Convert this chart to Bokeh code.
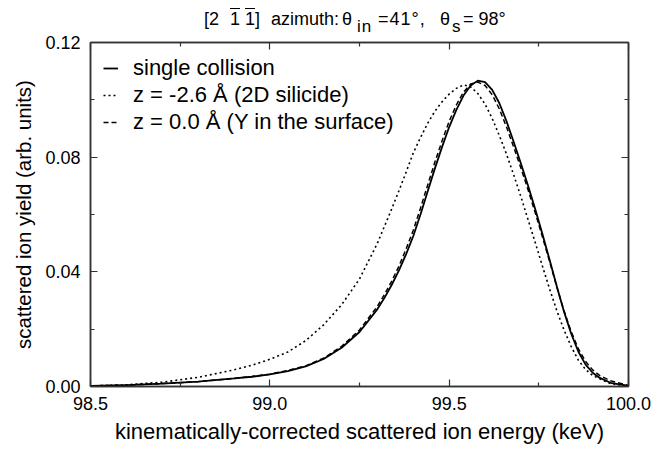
from bokeh.plotting import figure
from bokeh.models import LinearAxis, FixedTicker, Legend, LegendItem, Range1d, Div
from bokeh.layouts import column
from bokeh.embed import file_html
from bokeh.resources import INLINE

# ---------------- data ----------------
energy_single = [98.50, 98.60, 98.70, 98.80, 98.90, 98.95, 99.00, 99.05, 99.10, 99.15,
                 99.20, 99.25, 99.30, 99.32, 99.34, 99.36, 99.38, 99.40, 99.42, 99.44,
                 99.46, 99.48, 99.50, 99.52, 99.54, 99.56, 99.58, 99.60, 99.62, 99.64,
                 99.66, 99.68, 99.70, 99.72, 99.74, 99.76, 99.78, 99.80, 99.82, 99.84,
                 99.86, 99.88, 99.90, 99.92, 99.95, 100.00]
yield_single = [0.0002, 0.0005, 0.0010, 0.0017, 0.0028, 0.0034, 0.0042, 0.0054, 0.0070, 0.0096,
                0.0135, 0.0190, 0.0270, 0.0310, 0.0355, 0.0405, 0.0462, 0.0525, 0.0600, 0.0680,
                0.0760, 0.0835, 0.0905, 0.0965, 0.1015, 0.1050, 0.1067, 0.1062, 0.1035, 0.0988,
                0.0925, 0.0853, 0.0778, 0.0700, 0.0618, 0.0532, 0.0442, 0.0350, 0.0262, 0.0185,
                0.0122, 0.0077, 0.0048, 0.0030, 0.0013, 0.0002]

energy_silicide = [98.50, 98.60, 98.70, 98.80, 98.90, 98.95, 99.00, 99.05, 99.10, 99.15,
                   99.20, 99.25, 99.30, 99.32, 99.34, 99.36, 99.38, 99.40, 99.42, 99.44,
                   99.46, 99.48, 99.50, 99.52, 99.54, 99.56, 99.58, 99.60, 99.62, 99.64,
                   99.66, 99.68, 99.70, 99.72, 99.74, 99.76, 99.78, 99.80, 99.82, 99.84,
                   99.86, 99.88, 99.90, 99.95, 100.00]
yield_silicide = [0.0002, 0.0006, 0.0015, 0.0032, 0.0058, 0.0074, 0.0095, 0.0120, 0.0160, 0.0215,
                  0.0285, 0.0375, 0.0500, 0.0560, 0.0620, 0.0683, 0.0748, 0.0815, 0.0868, 0.0918,
                  0.0960, 0.0993, 0.1020, 0.1040, 0.1052, 0.1045, 0.1022, 0.0985, 0.0935, 0.0875,
                  0.0810, 0.0738, 0.0662, 0.0582, 0.0502, 0.0420, 0.0340, 0.0265, 0.0198, 0.0140,
                  0.0092, 0.0060, 0.0038, 0.0010, 0.0002]

energy_surface = [98.50, 98.60, 98.70, 98.80, 98.90, 98.95, 99.00, 99.05, 99.10, 99.15,
                  99.20, 99.25, 99.30, 99.32, 99.34, 99.36, 99.38, 99.40, 99.42, 99.44,
                  99.46, 99.48, 99.50, 99.52, 99.54, 99.56, 99.58, 99.60, 99.62, 99.64,
                  99.66, 99.68, 99.70, 99.72, 99.74, 99.76, 99.78, 99.80, 99.82, 99.84,
                  99.86, 99.88, 99.90, 99.92, 99.95, 100.00]
yield_surface = [0.0002, 0.0005, 0.0010, 0.0017, 0.0028, 0.0035, 0.0043, 0.0056, 0.0072, 0.0099,
                 0.0140, 0.0197, 0.0280, 0.0322, 0.0368, 0.0420, 0.0480, 0.0545, 0.0622, 0.0702,
                 0.0782, 0.0856, 0.0925, 0.0982, 0.1027, 0.1055, 0.1062, 0.1050, 0.1018, 0.0968,
                 0.0905, 0.0835, 0.0762, 0.0686, 0.0606, 0.0522, 0.0436, 0.0348, 0.0265, 0.0192,
                 0.0132, 0.0088, 0.0058, 0.0038, 0.0020, 0.0004]

series_labels = ["single collision", "z = -2.6 Å (2D silicide)", "z = 0.0 Å (Y in the surface)"]

x_ticks = [98.5, 99.0, 99.5, 100.0]
x_tick_labels = ["98.5", "99.0", "99.5", "100.0"]
x_minor_ticks = [98.75, 99.25, 99.75]
y_ticks = [0.0, 0.04, 0.08, 0.12]
y_tick_labels = ["0.00", "0.04", "0.08", "0.12"]
y_minor_ticks = [0.02, 0.06, 0.10]

x_title = "kinematically-corrected scattered ion energy (keV)"
y_title = "scattered ion yield (arb. units)"

FONT = "Liberation Sans"
AXC = "#333333"

# title pieces: (html, left px, top px, font px, letter spacing px)
title_pieces = [
    ("[2", 204, 10, 18, 0),
    ('<span style="text-decoration:overline">1</span>', 230, 10, 18, 0),
    ('<span style="text-decoration:overline">1</span>]', 245, 10, 18, 0),
    ("azimuth:", 271, 10, 18, 0),
    ("θ", 342, 10, 18, 0),
    ("in", 357, 18, 17, 1),
    ("=41°,", 378, 10, 18, 1),
    ("θ", 440, 10, 18, 0),
    ("s", 452, 18, 17, 0),
    ("=&nbsp;98°", 463, 10, 18, 0),
]
spans = "".join(
    f'<span style="position:absolute;left:{x}px;top:{y}px;font-size:{fs}px;'
    f'letter-spacing:{ls}px;line-height:1;">{t}</span>'
    for t, x, y, fs, ls in title_pieces
)
title_html = (
    '<div style="position:relative;width:658px;height:34px;font-family:\'Liberation Sans\',Arial,sans-serif;'
    f'color:black;white-space:nowrap;">{spans}</div>'
)
title_div = Div(text=title_html, width=658, height=34, margin=(0, 0, 0, 0))

p = figure(width=658, height=414, output_backend="svg", toolbar_location=None,
           x_range=Range1d(98.5, 100.0), y_range=Range1d(0.0, 0.12),
           x_axis_label=x_title, y_axis_label=y_title, margin=(0, 0, 0, 0))
p.min_border_left = 90
p.min_border_right = 30
p.min_border_top = 8
p.min_border_bottom = 62
p.grid.visible = False
p.outline_line_color = AXC
p.outline_line_width = 1.5
p.background_fill_color = "white"


def style_axis(ax, ticks, minor, labels, show_labels):
    ax.ticker = FixedTicker(ticks=ticks, minor_ticks=minor)
    ax.major_label_overrides = {t: l for t, l in zip(ticks, labels)}
    ax.axis_line_color = AXC
    ax.axis_line_width = 1.5
    ax.major_tick_line_color = AXC
    ax.minor_tick_line_color = AXC
    ax.major_tick_line_width = 1.2
    ax.minor_tick_line_width = 1.2
    ax.major_tick_in = 7
    ax.major_tick_out = 0
    ax.minor_tick_in = 4
    ax.minor_tick_out = 0
    ax.major_label_text_font = FONT
    ax.major_label_text_color = "black"
    if show_labels:
        ax.major_label_text_font_size = "18px"
        ax.major_label_standoff = 10
    else:
        ax.major_label_text_font_size = "0px"
        ax.major_label_standoff = 0


style_axis(p.xaxis[0], x_ticks, x_minor_ticks, x_tick_labels, True)
style_axis(p.yaxis[0], y_ticks, y_minor_ticks, y_tick_labels, True)
for ax in (p.xaxis[0], p.yaxis[0]):
    ax.axis_label_text_font = FONT
    ax.axis_label_text_font_style = "normal"
    ax.axis_label_text_color = "black"
p.xaxis[0].axis_label_text_font_size = "22px"
p.yaxis[0].axis_label_text_font_size = "20.5px"
p.xaxis[0].axis_label_standoff = 6
p.yaxis[0].axis_label_standoff = 7

top_ax = LinearAxis()
style_axis(top_ax, x_ticks, x_minor_ticks, [""] * 4, False)
p.add_layout(top_ax, "above")
right_ax = LinearAxis()
style_axis(right_ax, y_ticks, y_minor_ticks, [""] * 4, False)
p.add_layout(right_ax, "right")

r1 = p.line(energy_single, yield_single, line_color="black", line_width=1.8)
r2 = p.line(energy_silicide, yield_silicide, line_color="black", line_width=1.6, line_dash="2 3")
r3 = p.line(energy_surface, yield_surface, line_color="black", line_width=1.5, line_dash="5 3")

legend = Legend(items=[LegendItem(label=series_labels[0], renderers=[r1]),
                       LegendItem(label=series_labels[1], renderers=[r2]),
                       LegendItem(label=series_labels[2], renderers=[r3])],
                location="top_left")
legend.border_line_color = None
legend.background_fill_alpha = 0
legend.label_text_font = FONT
legend.label_text_font_size = "22px"
legend.label_text_color = "black"
legend.glyph_width = 15
legend.glyph_height = 22
legend.label_height = 22
legend.spacing = 1
legend.label_standoff = 15
legend.margin = 13
legend.padding = 8
p.add_layout(legend)

layout = column(title_div, p, spacing=0, margin=(0, 0, 0, 0))
open("out.html", "w").write(file_html(layout, INLINE))
